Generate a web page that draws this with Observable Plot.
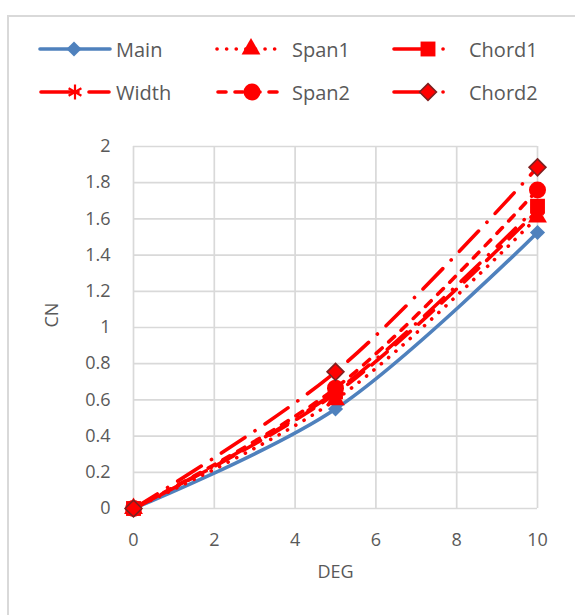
<!DOCTYPE html>
<html>
<head>
<meta charset="utf-8">
<script src="https://cdn.jsdelivr.net/npm/d3@7"></script>
<script src="https://cdn.jsdelivr.net/npm/@observablehq/plot@0.6"></script>
<style>
  html, body { margin: 0; padding: 0; background: #fff; }
  #wrap { position: relative; width: 575px; height: 615px; overflow: hidden; font-family: "Open Sans", sans-serif; }
  #border { position: absolute; left: 7px; top: 15px; width: 640px; height: 680px; border: 2px solid #d9d9d9; box-sizing: border-box; }
  #legend { position: absolute; left: 0; top: 0; }
  #chart { position: absolute; left: 0; top: 110px; }
</style>
</head>
<body>
<div id="wrap"><div id="border"></div><div id="legend"></div><div id="chart"></div></div>
<script>
// ---- data ----
const deg = [0, 5, 10];
const main = [0, 0.55, 1.525];
const widthS = [0, 0.635, 1.645];
const span1 = [0, 0.60, 1.61];
const span2 = [0, 0.665, 1.76];
const chord1 = [0, 0.645, 1.67];
const chord2 = [0, 0.755, 1.885];
const seriesNames = ["Main", "Width", "Span1", "Span2", "Chord1", "Chord2"];
const seriesValues = [main, widthS, span1, span2, chord1, chord2];
const xTicks = [0, 2, 4, 6, 8, 10];
const yTicks = [0, 0.2, 0.4, 0.6, 0.8, 1, 1.2, 1.4, 1.6, 1.8, 2];

// ---- styles ----
const styles = {
  Main:   {stroke: "#4F81BD", dash: null, legendDash: null, symbol: "diamond2", r: 6.8, fill: "#4F81BD", mstroke: "none", msw: 0},
  Width:  {stroke: "#FF0000", dash: "20,11", legendDash: "37,11,40", symbol: "asterisk", r: 7, fill: "none", mstroke: "#FF0000", msw: 2.2},
  Span1:  {stroke: "#FF0000", dash: "0.1,9.5", legendDash: "0.1,9.5", symbol: "triangle", r: 7, fill: "#FF0000", mstroke: "none", msw: 0},
  Span2:  {stroke: "#FF0000", dash: "8,9", legendDash: "8,9", symbol: "circle", r: 8.5, fill: "#FF0000", mstroke: "none", msw: 0},
  Chord1: {stroke: "#FF0000", dash: "26,12,0.1,12", legendDash: "34,15,0.1,30", symbol: "square", r: 8.4, fill: "#FF0000", mstroke: "none", msw: 0},
  Chord2: {stroke: "#FF0000", dash: "28,12,0.1,12", legendDash: "34,15,0.1,30", symbol: "diamond2", r: 7.6, fill: "#FF0000", mstroke: "#7F2020", msw: 1.6}
};

const rows = [];
seriesNames.forEach((s, i) => deg.forEach((d, j) => rows.push({series: s, deg: d, cn: seriesValues[i][j]})));

// ---- legend ----
const legendItems = [
  {name: "Main", x: 40, len: 70, tx: 116, y: 49},
  {name: "Span1", x: 217, len: 66, tx: 292, y: 49},
  {name: "Chord1", x: 394, len: 60, tx: 469, y: 49},
  {name: "Width", x: 41, len: 68, tx: 116, y: 92},
  {name: "Span2", x: 218, len: 66, tx: 292, y: 92},
  {name: "Chord2", x: 394, len: 60, tx: 469, y: 92}
];
const symMap = {diamond2: d3.symbolDiamond2, asterisk: d3.symbolAsterisk, triangle: d3.symbolTriangle, circle: d3.symbolCircle, square: d3.symbolSquare};
const lsvg = d3.select("#legend").append("svg").attr("width", 575).attr("height", 110);
legendItems.forEach(it => {
  const st = styles[it.name];
  lsvg.append("line").attr("x1", it.x).attr("x2", it.x + it.len).attr("y1", it.y).attr("y2", it.y)
    .attr("stroke", st.stroke).attr("stroke-width", 3.6).attr("stroke-linecap", "round")
    .attr("stroke-dasharray", st.legendDash);
  lsvg.append("path").attr("transform", `translate(${it.x + 34},${it.y})`)
    .attr("d", d3.symbol(symMap[st.symbol], Math.PI * st.r * st.r)())
    .attr("fill", st.fill).attr("stroke", st.mstroke).attr("stroke-width", st.msw);
  lsvg.append("text").attr("x", it.tx).attr("y", it.y + 7.5).text(it.name)
    .attr("fill", "#595959").attr("font-size", 20).attr("font-family", "Open Sans, sans-serif");
});

// ---- chart ----
const marks = [
  Plot.ruleY(yTicks, {stroke: "#d9d9d9", strokeWidth: 1.7}),
  Plot.ruleX(xTicks, {stroke: "#d9d9d9", strokeWidth: 1.7}),
  Plot.axisX({ticks: xTicks, tickSize: 0, tickPadding: 25, fontSize: 18, color: "#595959", label: null}),
  Plot.axisY({ticks: yTicks, tickSize: 0, tickPadding: 23, fontSize: 18, color: "#595959", label: null,
    tickFormat: d => String(+d.toFixed(1))}),
  Plot.text(["DEG"], {frameAnchor: "bottom", dy: 57, lineAnchor: "top", fontSize: 18, fill: "#595959"}),
  Plot.text(["CN"], {frameAnchor: "left", dx: -81, rotate: -90, fontSize: 18, fill: "#595959"})
];
seriesNames.forEach(s => {
  const st = styles[s];
  const data = rows.filter(r => r.series === s);
  marks.push(Plot.line(data, {x: "deg", y: "cn", curve: "catmull-rom", stroke: st.stroke, strokeWidth: 3.6,
    strokeDasharray: st.dash || undefined, strokeLinecap: "round"}));
  marks.push(Plot.dot(data, {x: "deg", y: "cn", symbol: st.symbol, r: st.r, fill: st.fill,
    stroke: st.mstroke, strokeWidth: st.msw}));
});

const chart = Plot.plot({
  width: 575,
  height: 505,
  marginTop: 36,
  marginBottom: 107,
  marginLeft: 133,
  marginRight: 38,
  style: {fontFamily: "Open Sans, sans-serif", background: "transparent"},
  x: {domain: [0, 10]},
  y: {domain: [0, 2]},
  marks
});
document.getElementById("chart").appendChild(chart);
</script>
</body>
</html>
